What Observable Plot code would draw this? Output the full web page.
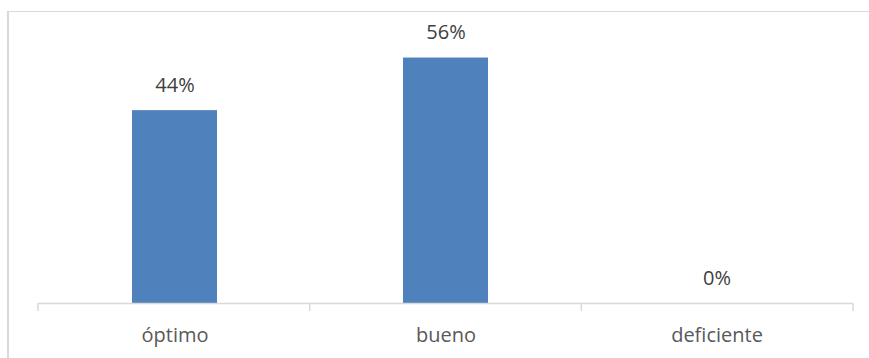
<!DOCTYPE html>
<html>
<head>
<meta charset="utf-8">
<script src="https://cdn.jsdelivr.net/npm/d3@7"></script>
<script src="https://cdn.jsdelivr.net/npm/@observablehq/plot@0.6"></script>
<style>
  html, body { margin: 0; padding: 0; background: #fff; }
  #wrap { position: relative; width: 869px; height: 358px; overflow: hidden; }
  #frame { position: absolute; left: 7px; top: 11px; right: 0; bottom: -4px;
           border-top: 1px solid #d9d9d9; border-left: 2px solid #d9d9d9; pointer-events: none; }
  #chart { position: absolute; left: 0; top: 0; }
</style>
</head>
<body>
<div id="wrap"><div id="frame"></div><div id="chart"></div></div>
<script>
// Rating shares
const categories = ["óptimo", "bueno", "deficiente"];
const values = [44, 56, 0];
const valueLabels = ["44%", "56%", "0%"];
const yMax = 60;

const data = categories.map((c, i) => ({category: c, value: values[i], label: valueLabels[i]}));

const gridColor = "#d9d9d9";
const textColor = "#595959";

const chart = Plot.plot({
  width: 869,
  height: 358,
  marginLeft: 38,
  marginRight: 16,
  marginTop: 40,
  marginBottom: 55,
  style: {fontFamily: "'Open Sans', sans-serif", fontSize: "20px", color: textColor, background: "transparent"},
  x: {domain: categories, paddingInner: 0.687, paddingOuter: 0.3435, label: null},
  y: {domain: [0, yMax], axis: null},
  marks: [
    Plot.barY(data, {x: "category", y: "value", fill: "#4f81bd"}),
    Plot.ruleY([0], {stroke: gridColor, strokeWidth: 1.5}),
    Plot.text(data, {x: "category", y: "value", text: "label", lineAnchor: "bottom", dy: -19, fill: "#404040"}),
    Plot.axisX({tickSize: 0, tickPadding: 24, label: null, fill: textColor})
  ]
});

// Category boundary ticks below the baseline, placed from the plot's own scales
const xs = chart.scale("x");
const ys = chart.scale("y");
const band = d3.scaleBand(xs.domain, xs.range)
  .paddingInner(xs.paddingInner).paddingOuter(xs.paddingOuter).align(xs.align ?? 0.5);
const yLin = d3.scaleLinear(ys.domain, ys.range);
const gap = (band.step() - band.bandwidth()) / 2;
const bounds = categories.map(c => band(c) - gap).concat([band(categories[categories.length - 1]) + band.bandwidth() + gap]);
d3.select(chart).append("g")
  .attr("stroke", gridColor)
  .attr("stroke-width", 1.5)
  .selectAll("line")
  .data(bounds)
  .join("line")
  .attr("x1", d => d).attr("x2", d => d)
  .attr("y1", yLin(0)).attr("y2", yLin(0) + 8);

document.getElementById("chart").appendChild(chart);
</script>
</body>
</html>
